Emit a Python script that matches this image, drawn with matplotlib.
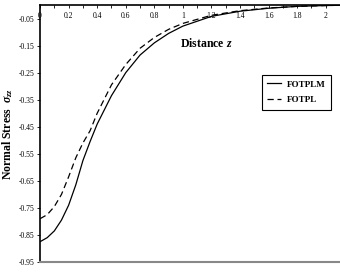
import numpy as np
import matplotlib
matplotlib.use('Agg')
import matplotlib.pyplot as plt

# values
distance = [0, 0.05, 0.1, 0.15, 0.2, 0.25, 0.3, 0.35, 0.4, 0.5, 0.6, 0.7,
            0.8, 0.9, 1.0, 1.2, 1.4, 1.6, 1.8, 2.0, 2.1]
fotplm = [-0.875, -0.86, -0.835, -0.795, -0.74, -0.665, -0.575, -0.505, -0.44,
          -0.335, -0.25, -0.185, -0.14, -0.105, -0.078, -0.042, -0.023, -0.012,
          -0.005, -0.002, -0.001]
fotpl = [-0.79, -0.775, -0.745, -0.70, -0.635, -0.565, -0.51, -0.465, -0.40,
         -0.295, -0.22, -0.16, -0.12, -0.09, -0.068, -0.038, -0.021, -0.011,
         -0.005, -0.002, -0.001]
y_ticks = [-0.05, -0.15, -0.25, -0.35, -0.45, -0.55, -0.65, -0.75, -0.85, -0.95]
x_labels = [0, 0.2, 0.4, 0.6, 0.8, 1, 1.2, 1.4, 1.6, 1.8, 2]

plt.rcParams['font.family'] = 'Liberation Serif'
plt.rcParams['mathtext.fontset'] = 'custom'
plt.rcParams['mathtext.rm'] = 'Liberation Serif:bold'
plt.rcParams['mathtext.it'] = 'Liberation Serif:bold:italic'

fig = plt.figure(figsize=(3.4, 2.72), dpi=100)
ax = fig.add_axes([40/340, 1 - 262/272, 300/340, 257/272])

ax.plot(distance, fotplm, color='black', lw=0.9, label='FOTPLM')
ax.plot(distance, fotpl, color='black', lw=0.9, ls=(0, (5, 3)), label='FOTPL')

ax.set_xlim(-0.0005, 2.1)
ax.set_ylim(-0.95, 0)
ax.set_yticks(y_ticks)
ax.set_yticklabels(['%.2f' % v for v in y_ticks])
ax.set_xticks(x_labels)
ax.set_xticklabels(['%g' % v for v in x_labels])
ax.set_xticks(np.arange(0.1, 2.1, 0.2), minor=True)

ax.tick_params(axis='x', which='both', top=True, bottom=False, labeltop=True,
               labelbottom=False, direction='in', length=2.5, width=0.6,
               pad=-11, labelsize=5.5)
ax.tick_params(axis='y', direction='out', length=2, width=0.6, labelsize=5.5, pad=2)

ax.spines['right'].set_visible(False)
ax.spines['top'].set_linewidth(1.2)
ax.spines['left'].set_linewidth(1.2)
ax.spines['bottom'].set_color('#888888')
ax.spines['bottom'].set_linewidth(1.5)

ax.text(0.555, 0.85, r'Distance $z$', transform=ax.transAxes, ha='center',
        va='center', fontsize=8.5, fontweight='bold')
ax.set_ylabel(r'Normal Stress  $\sigma_{zz}$', fontsize=8.5, fontweight='bold')
ax.yaxis.set_label_coords(-0.082, 0.5)

leg = ax.legend(loc='upper right', bbox_to_anchor=(0.97, 0.728), borderaxespad=0,
                fancybox=False, edgecolor='black', framealpha=1,
                prop={'weight': 'bold', 'size': 6.5}, handlelength=1.6,
                handletextpad=0.6, borderpad=0.6, labelspacing=0.8)
leg.get_frame().set_linewidth(0.8)

fig.savefig('out.png', dpi=100)
